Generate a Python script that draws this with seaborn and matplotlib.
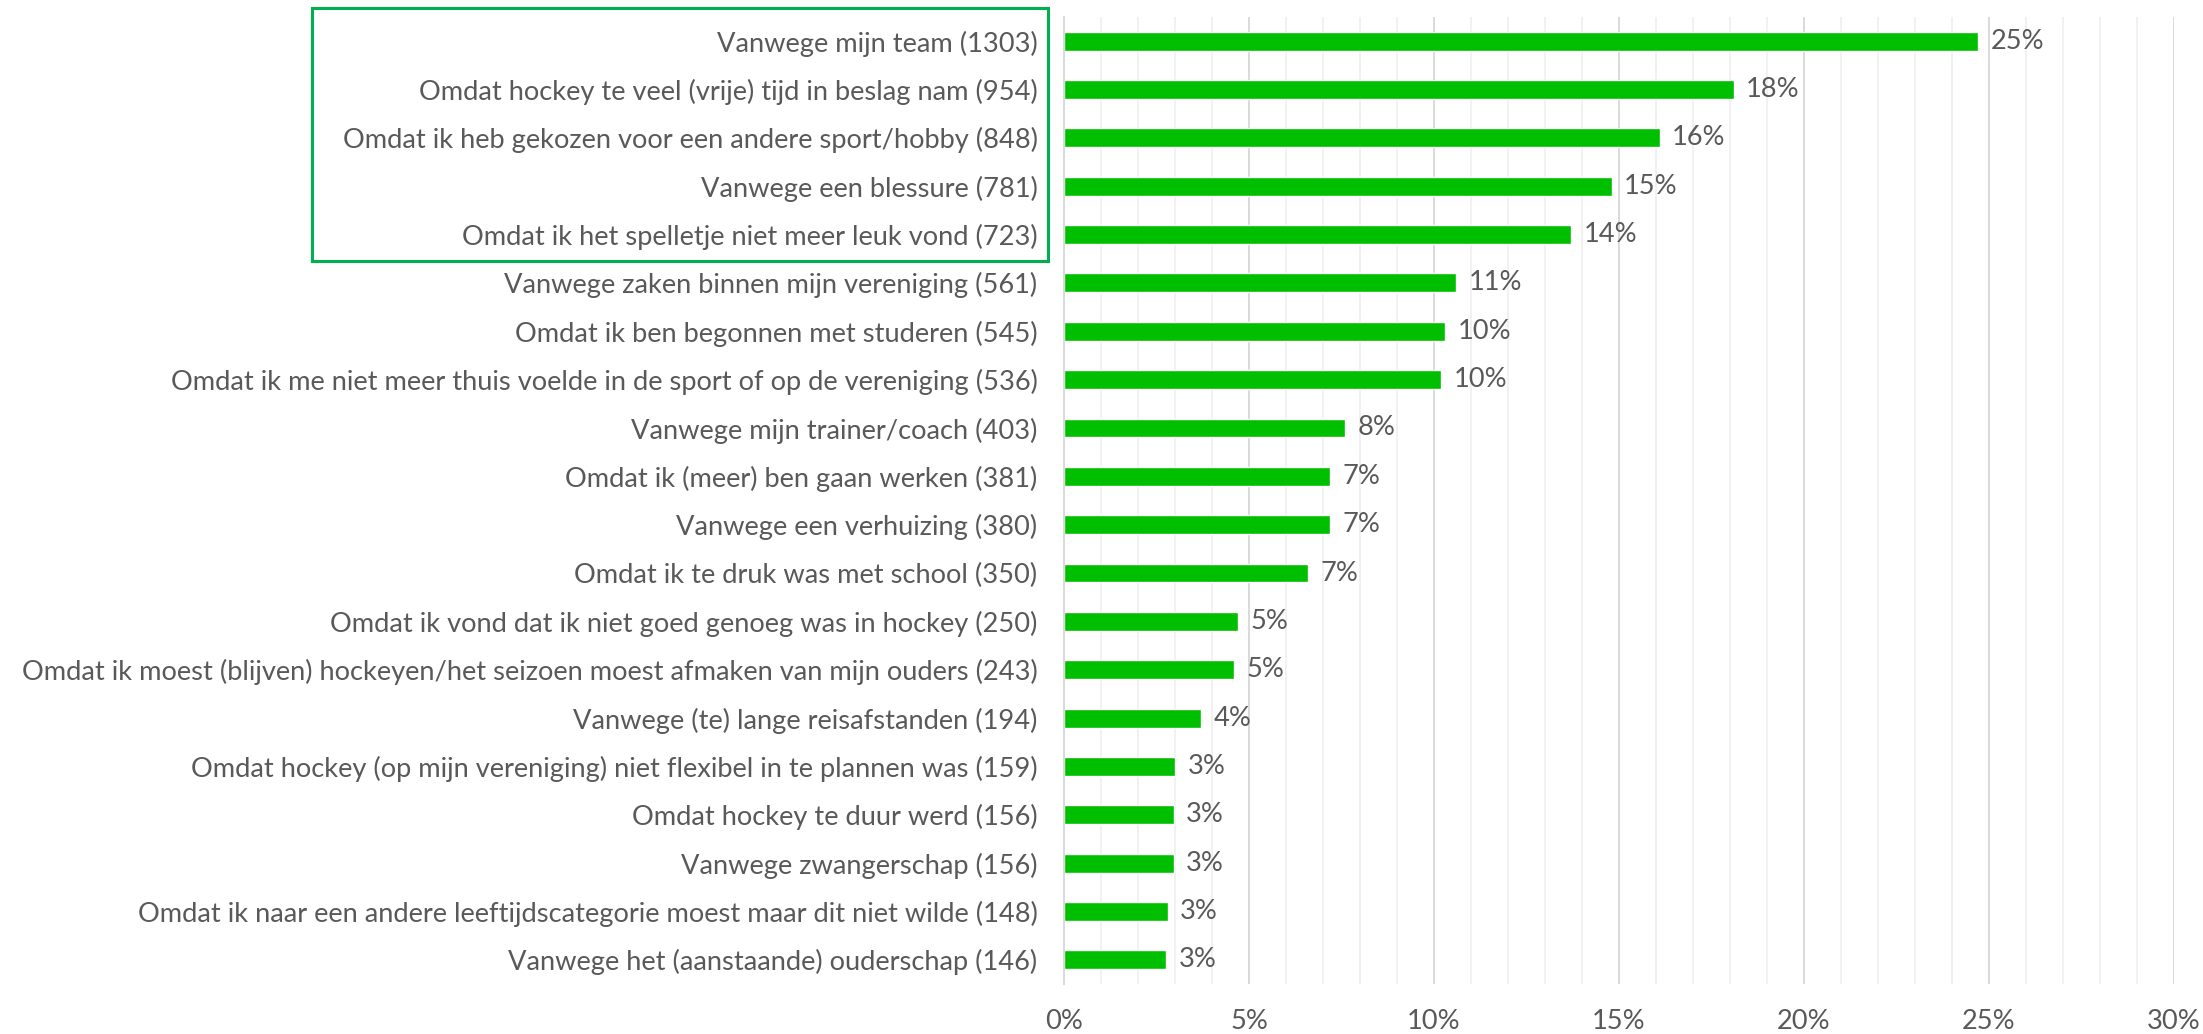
import matplotlib
matplotlib.use("Agg")
import matplotlib.pyplot as plt
import matplotlib.patches as mpatches
from matplotlib.ticker import MultipleLocator, PercentFormatter
import seaborn as sns
import pandas as pd

reasons = [
    "Vanwege mijn team (1303)",
    "Omdat hockey te veel (vrije) tijd in beslag nam (954)",
    "Omdat ik heb gekozen voor een andere sport/hobby (848)",
    "Vanwege een blessure (781)",
    "Omdat ik het spelletje niet meer leuk vond (723)",
    "Vanwege zaken binnen mijn vereniging (561)",
    "Omdat ik ben begonnen met studeren (545)",
    "Omdat ik me niet meer thuis voelde in de sport of op de vereniging (536)",
    "Vanwege mijn trainer/coach (403)",
    "Omdat ik (meer) ben gaan werken (381)",
    "Vanwege een verhuizing (380)",
    "Omdat ik te druk was met school (350)",
    "Omdat ik vond dat ik niet goed genoeg was in hockey (250)",
    "Omdat ik moest (blijven) hockeyen/het seizoen moest afmaken van mijn ouders (243)",
    "Vanwege (te) lange reisafstanden (194)",
    "Omdat hockey (op mijn vereniging) niet flexibel in te plannen was (159)",
    "Omdat hockey te duur werd (156)",
    "Vanwege zwangerschap (156)",
    "Omdat ik naar een andere leeftijdscategorie moest maar dit niet wilde (148)",
    "Vanwege het (aanstaande) ouderschap (146)",
]
percent = [24.7, 18.1, 16.1, 14.8, 13.7, 10.6, 10.3, 10.2, 7.6, 7.2,
           7.2, 6.6, 4.7, 4.6, 3.7, 3.0, 2.96, 2.96, 2.8, 2.77]

df = pd.DataFrame({"reason": reasons, "percent": percent})

sns.set_style("white")
plt.rcParams["font.family"] = ["Lato", "DejaVu Sans"]
text_color = "#595959"
fs = 19.6

fig = plt.figure(figsize=(22.03, 10.34), dpi=100)
ax = fig.add_axes([1064 / 2203, 1 - 984 / 1034, 1110 / 2203, 967 / 1034])

sns.barplot(data=df, x="percent", y="reason", orient="h", color="#00BE00",
            width=0.39, saturation=1, ax=ax)

ax.set_xlim(0, 30)
ax.xaxis.set_major_locator(MultipleLocator(5))
ax.xaxis.set_minor_locator(MultipleLocator(1))
ax.xaxis.set_major_formatter(PercentFormatter(decimals=0))
ax.grid(axis="x", which="minor", color="#EFEFEF", linewidth=1.2)
ax.grid(axis="x", which="major", color="#D9D9D9", linewidth=1.4)
ax.set_axisbelow(True)
for s in ["top", "right", "bottom"]:
    ax.spines[s].set_visible(False)
ax.spines["left"].set_color("#D9D9D9")
ax.spines["left"].set_linewidth(1.4)

ax.tick_params(axis="y", length=0, pad=19, labelsize=fs, labelcolor=text_color)
ax.tick_params(axis="x", which="both", length=0, pad=18, labelsize=fs, labelcolor=text_color)
ax.set_xlabel("")
ax.set_ylabel("")

ax.bar_label(ax.containers[0], labels=[f"{v:.0f}%" for v in percent],
             padding=9, fontsize=fs, color=text_color)

# highlight box around top five reasons
box = mpatches.Rectangle((312 / 2203, 1 - 261 / 1034), 736 / 2203, 253 / 1034,
                         transform=fig.transFigure, fill=False,
                         edgecolor="#00B050", linewidth=2.2)
fig.patches.append(box)

fig.savefig("out.png", dpi=100)
